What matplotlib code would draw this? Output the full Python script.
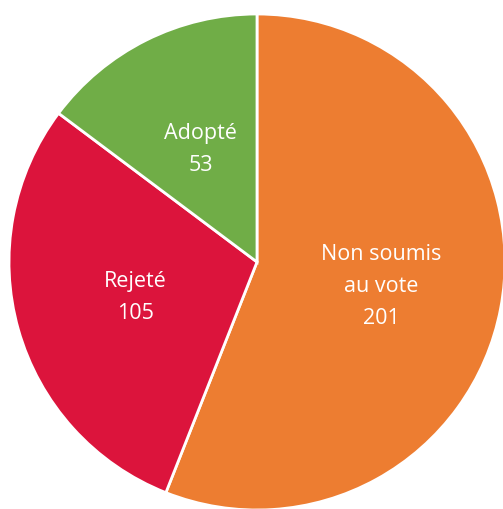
import matplotlib
matplotlib.use("Agg")
import matplotlib.pyplot as plt

categories = ["Non soumis\nau vote", "Rejeté", "Adopté"]
values = [201, 105, 53]
colors = ["#ED7D31", "#DC143C", "#70AD47"]

plt.rcParams['font.family'] = ['Open Sans', 'DejaVu Sans']

fig = plt.figure(figsize=(5.03, 5.10), dpi=100)
R = 248
cx, cy = 257, 510 - 263
ax = fig.add_axes([(cx - R) / 503, (cy - R) / 510, 2 * R / 503, 2 * R / 510])

labels = [f"{c}\n{v}" for c, v in zip(categories, values)]
wedges, texts = ax.pie(values, colors=colors, startangle=90, counterclock=False,
                       labels=labels, labeldistance=0.51,
                       wedgeprops=dict(edgecolor="white", linewidth=2),
                       textprops=dict(color="white", fontsize=15.5, ha="center", va="center",
                                      linespacing=1.68))
ax.set_xlim(-1, 1)
ax.set_ylim(-1, 1)
ax.set_aspect("equal")
ax.axis("off")
fig.savefig("out.png", dpi=100)
